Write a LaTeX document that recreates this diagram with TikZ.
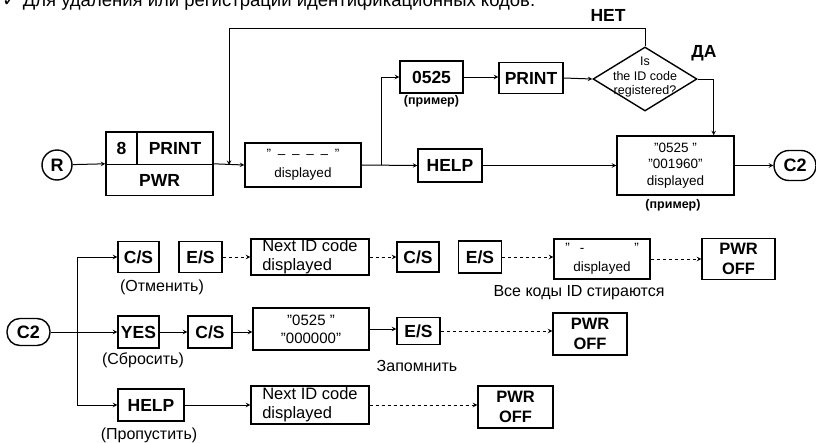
\documentclass[tikz,border=0pt]{standalone}
\usepackage{fontspec}
\setmainfont{Liberation Sans}
\newfontfamily\symfont{DejaVu Sans}
\usetikzlibrary{shapes.geometric,arrows,positioning}

\begin{document}
\begin{tikzpicture}[x=1pt, y=-1pt,
        key/.style={rectangle, draw, line width=1.4pt, inner sep=0pt, font=\fontsize{17.5}{20}\selectfont\bfseries},
        screen/.style={rectangle, draw, line width=1.4pt, inner sep=0pt, align=center, font=\fontsize{13.5}{16.5}\selectfont},
        nextid/.style={screen, align=left, font=\fontsize{16.5}{19}\selectfont},
        pwroff/.style={key, align=center, font=\fontsize{16.5}{20}\selectfont\bfseries},
        term/.style={rectangle, draw, line width=1.4pt, inner sep=0pt, font=\fontsize{18}{20}\selectfont\bfseries},
        note/.style={inner sep=0pt, font=\fontsize{16}{18}\selectfont},
        example/.style={inner sep=0pt, font=\fontsize{12.5}{15}\selectfont\bfseries},
        wh/.style 2 args={minimum width=#1, minimum height=#2},
        flow/.style={->, >=stealth, line width=1pt},
        dflow/.style={flow, dash pattern=on 3pt off 3pt}]

    \useasboundingbox (0,0) rectangle (816,442);
    \clip (0,0) rectangle (816,442);

    % Heading, cut off by the top edge
    \node[anchor=base west, inner sep=0pt, font=\fontsize{18.5}{20}\selectfont] (head) at (2,6)
        {{\symfont ✓}\ Для удаления или регистрации идентификационных кодов.};

    % Upper chart
    \node[circle, draw, line width=1.4pt, minimum size=30pt, inner sep=0pt, font=\fontsize{18}{20}\selectfont\bfseries] (R) at (57,165) {R};
    \node[key, wh={31}{32.5}] (k8) at (121.5,148.25) {8};
    \node[key, wh={76}{32.5}] (kprint) at (175,148.25) {PRINT};
    \node[key, wh={107}{31}] (kpwr) at (159.5,180) {PWR};
    \node[screen, wh={116}{44}] (disp1) at (303,165) {"\enspace--\enspace--\enspace--\enspace--\enspace"\\[3pt]displayed};
    \node[key, wh={63}{32}] (c0525) at (431.5,77) {0525};
    \node[example, below=2pt of c0525] (ex1) {(пример)};
    \node[key, wh={64}{31}] (cprint) at (531,78) {PRINT};
    \node[diamond, draw, line width=1.4pt, wh={104}{64}, inner sep=0pt] (regq) at (645,79) {};
    \node[align=center, inner sep=0pt, font=\fontsize{12.5}{14.5}\selectfont] (regqtext) at (645,77) {Is\\the ID code\\registered?};
    \node[key, wh={64}{33}] (help1) at (450,165.5) {HELP};
    \node[screen, wh={117}{59}] (bigbox) at (675.5,165.5) {"0525 "\\"001960"\\displayed};
    \node[example] (ex2) at (673,205) {(пример)};
    \node[term, rounded corners=15pt, wh={42}{30}] (C2a) at (795,165.5) {C2};
    \node[key, draw=none] (no) at (608,15) {НЕТ};
    \node[key, draw=none] (yes1) at (704,53) {ДА};

    % Upper connectors
    \coordinate (ret) at (229,28);
    \coordinate (merge) at (229,165);
    \coordinate (br1) at (381,165);
    \draw[flow] (R) -- (kpwr.north west);
    \draw[flow] (kpwr.north east) -- (disp1.west);
    \draw[flow] (regq.north) |- (ret) -- (merge);
    \draw[flow] (disp1.east) -- (help1.west);
    \draw[flow] (br1) |- (c0525.west);
    \draw[flow] (c0525.east) -- (c0525.east -| cprint.west);
    \draw[flow] (cprint.east) -- (regq.west);
    \draw[flow] (regq.east) -| ([xshift=-21pt]bigbox.north east);
    \draw[flow] (help1.east) -- (help1.east -| bigbox.west);
    \draw[flow] (bigbox.east) -- (bigbox.east -| C2a.west);

    % Lower chart
    \node[term, rounded corners=13pt, wh={43}{27}] (C2b) at (28.5,332) {C2};
    \node[key, wh={41}{31}] (cs1) at (138.5,257) {C/S};
    \node[key, wh={43}{31}] (es1) at (200.5,257) {E/S};
    \node[note] (cancel) at (162,287) {(Отменить)};
    \node[nextid, wh={118}{36}] (next1) at (310,257) {Next ID code\\displayed};
    \node[key, wh={42}{30}] (cs3) at (418,257) {C/S};
    \node[key, wh={43}{32}] (es3) at (480,257) {E/S};
    \node[screen, wh={96}{40}] (disp2) at (602,259) {"\hspace{10pt}-\hspace{50pt}"\\[3pt]displayed};
    \node[pwroff, wh={73}{41}] (pwr1) at (738.5,259) {PWR\\OFF};
    \node[note] (erase) at (579,293) {Все коды ID стираются};

    \node[key, wh={41}{32}] (yes) at (138.5,332) {YES};
    \node[note] (reset) at (143,360) {(Сбросить)};
    \node[key, wh={44}{32}] (cs2) at (210,332) {C/S};
    \node[screen, font=\fontsize{15}{18}\selectfont, wh={116}{42}] (z0525) at (311,329) {"0525 "\\"000000"};
    \node[key, wh={43}{27}] (es2) at (418.5,331) {E/S};
    \node[note] (store) at (417,366) {Запомнить};
    \node[pwroff, wh={74}{42}] (pwr2) at (590,334) {PWR\\OFF};

    \node[key, wh={66}{32}] (help2) at (151,405) {HELP};
    \node[note] (skip) at (149,435) {(Пропустить)};
    \node[nextid, wh={118}{38}] (next2) at (310,405) {Next ID code\\displayed};
    \node[pwroff, wh={75}{42}] (pwr3) at (515.5,407) {PWR\\OFF};

    % Lower connectors
    \coordinate (trunk) at (77,332);
    \draw[line width=1pt] (C2b.east) -- (trunk);
    \draw[flow] (trunk) |- (cs1.west);
    \draw[flow] (trunk) -- (yes.west);
    \draw[flow] (trunk) |- (help2.west);
    \draw[dflow] (es1.east) -- (es1.east -| next1.west);
    \draw[dflow] (next1.east) -- (next1.east -| cs3.west);
    \draw[dflow] (es3.east) -- (es3.east -| disp2.west);
    \draw[dflow] (disp2.east) -- (disp2.east -| pwr1.west);
    \draw[flow] (yes.east) -- (yes.east -| cs2.west);
    \draw[flow] (cs2.east) -- (cs2.east -| z0525.west);
    \draw[flow] (z0525.east) -- (z0525.east -| es2.west);
    \draw[dflow] (es2.east) -- (es2.east -| pwr2.west);
    \draw[flow] (help2.east) -- (help2.east -| next2.west);
    \draw[dflow] (next2.east) -- (next2.east -| pwr3.west);

\end{tikzpicture}
\end{document}
